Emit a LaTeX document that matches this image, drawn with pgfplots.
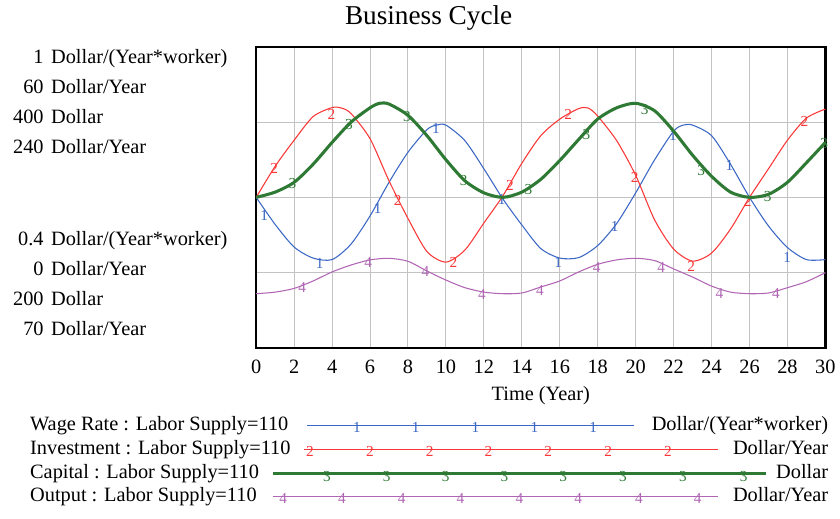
\documentclass[border=0pt]{standalone}
\usepackage{pgfplots}
\pgfplotsset{compat=1.18}
\usepackage{fontspec}
\setmainfont{Liberation Serif}
\definecolor{cBlue}{RGB}{59,103,196}
\definecolor{cRed}{RGB}{250,55,55}
\definecolor{cGreen}{RGB}{46,122,52}
\definecolor{cPurple}{RGB}{176,102,180}
\definecolor{cGrid}{RGB}{195,195,195}
\newcommand{\lf}{\fontsize{15.3}{18}\selectfont}
\newcommand{\mf}{\fontsize{11.5}{13}\selectfont}
\pgfplotsset{common/.style={width=428.25pt,height=226.5pt,scale only axis,
  at={(192.75pt,128.25pt)},anchor=south west,xmin=0,xmax=30,clip=false},
  lbl/.style={draw=none, mark=none, nodes near coords={#1},
  every node near coord/.append style={anchor=center, font=\mf, inner sep=0pt}},
  crv/.style={smooth, tension=0.45, line width=0.8pt}}
\begin{document}
\begin{tikzpicture}
\begin{scope}[x=0.75pt,y=0.75pt]
\useasboundingbox (0,0) rectangle (840,520);
\end{scope}
% main axis: Wage Rate
\begin{axis}[common, ymin=0.4, ymax=1,
  xtick={0,2,...,30}, ytick={0.55,0.7,0.85}, yticklabels={},
  grid=major, grid style={draw=cGrid,line width=0.75pt},
  major tick length=0pt,
  axis line style={line width=1.9pt},
  ticklabel style={font=\lf},
  /pgf/number format/assume math mode=true,
  xticklabel style={yshift=-5.5pt},
  xlabel={Time (Year)}, xlabel style={font=\lf, yshift=-3pt}]
\addplot[cBlue, crv] coordinates {
(0,0.700)(1,0.646)(2,0.601)(3,0.579)(4,0.576)(5,0.607)(6,0.663)(7,0.730)(8,0.790)(9,0.835)(9.5,0.844)(10,0.844)(11,0.813)(12,0.757)(13,0.697)(14,0.645)(15,0.598)(16,0.579)(17,0.580)(18,0.604)(19,0.648)(20,0.709)(21,0.775)(22,0.832)(22.5,0.844)(23,0.844)(24,0.823)(25,0.766)(26,0.700)(27,0.643)(28,0.600)(29,0.576)(30,0.576)};
\addplot[lbl=1, every node near coord/.append style={text=cBlue}] coordinates {
(0.42,0.664)(3.35,0.568)(6.4,0.677)(9.48,0.838)(12.94,0.695)(15.92,0.571)(18.9,0.642)(21.97,0.823)(24.94,0.763)(27.99,0.581)};
\end{axis}
% Investment
\begin{axis}[common, ymin=0, ymax=60, hide axis]
\addplot[cRed, crv] coordinates {
(0,30)(1,36.2)(2,41.4)(3,46.1)(4,47.9)(4.5,47.8)(5,46.7)(6,41.7)(7,33.3)(8,25.8)(9,19.2)(10,17.1)(11,19.5)(12,24.9)(13,30.3)(14,36.8)(15,42.3)(16,45.6)(17,47.7)(17.5,47.8)(18,46.2)(19,41.3)(20,34.4)(21,25.5)(22,19.7)(23,17.3)(24,18.9)(25,23.7)(26,30)(27,35.7)(28,41.4)(29,45.8)(30,47.6)};
\addplot[lbl=2, every node near coord/.append style={text=cRed}] coordinates {
(0.95,35.7)(3.96,46.5)(7.46,29.4)(10.4,17.1)(13.38,32.4)(16.45,46.5)(19.95,34.0)(22.93,16.2)(25.9,29.1)(28.89,45.1)};
\end{axis}
% Capital
\begin{axis}[common, ymin=200, ymax=400, hide axis]
\addplot[cGreen, crv, line width=2.3pt] coordinates {
(0,300)(1,303.5)(2,310)(3,322)(4,336.5)(5,350)(6,359.5)(6.5,362.5)(7,362)(8,354.5)(9,341)(10,325)(11,311)(12,303)(13,300)(14,303.5)(15,312)(16,324.5)(17,338.5)(18,352)(19,359.5)(20,362.5)(21,357.5)(22,344)(23,328)(24,314)(25,303.5)(26,300)(27,302)(28,310)(29,323)(30,336.5)};
\addplot[lbl=3, every node near coord/.append style={text=cGreen}] coordinates {
(1.91,309)(4.89,348.5)(7.95,353.5)(10.93,311)(14.35,305)(17.41,342)(20.48,358.5)(23.45,318)(26.96,300.5)(29.94,335.5)};
\end{axis}
% Output
\begin{axis}[common, ymin=70, ymax=240, hide axis]
\addplot[cPurple, crv] coordinates {
(0,100.6)(1,101.5)(2,103.6)(3,107.8)(4,112.9)(5,116.8)(6,119.7)(7,120.6)(8,118.9)(9,113.4)(10,108.3)(11,104)(12,101.5)(13,100.6)(14,101)(15,104.4)(16,107.8)(17,112.9)(18,117.2)(19,119.7)(20,120.6)(21,119.3)(22,114.6)(23,110)(24,104.9)(25,101.5)(26,100.6)(27,101)(28,104)(29,107.4)(30,112.5)};
\addplot[lbl=4, every node near coord/.append style={text=cPurple}] coordinates {
(2.43,104.4)(5.9,118.0)(8.92,112.9)(11.9,100.2)(14.96,102.7)(17.94,115.5)(21.35,115.5)(24.42,101.0)(27.39,101.0)};
\end{axis}
\begin{scope}[x=0.75pt,y=0.75pt]
% title
\node[font=\fontsize{20.5}{24}\selectfont] at (430,502) {Business Cycle};
\begin{scope}[every node/.style={font=\lf, inner sep=0pt}]
\node[anchor=mid east] at (44,459) {1};   \node[anchor=mid west] at (51,459) {Dollar/(Year*worker)};
\node[anchor=mid east] at (44,429) {60};  \node[anchor=mid west] at (51,429) {Dollar/Year};
\node[anchor=mid east] at (44,399) {400}; \node[anchor=mid west] at (51,399) {Dollar};
\node[anchor=mid east] at (44,369) {240}; \node[anchor=mid west] at (51,369) {Dollar/Year};
\node[anchor=mid east] at (44,277) {0.4}; \node[anchor=mid west] at (51,277) {Dollar/(Year*worker)};
\node[anchor=mid east] at (44,247) {0};   \node[anchor=mid west] at (51,247) {Dollar/Year};
\node[anchor=mid east] at (44,217) {200}; \node[anchor=mid west] at (51,217) {Dollar};
\node[anchor=mid east] at (44,187) {70};  \node[anchor=mid west] at (51,187) {Dollar/Year};
% legend
\node[anchor=mid west] at (30,91) {Wage Rate : Labor Supply=110};
\node[anchor=mid west] at (30,67) {Investment : Labor Supply=110};
\node[anchor=mid west] at (30,43) {Capital : Labor Supply=110};
\node[anchor=mid west] at (30,20) {Output : Labor Supply=110};
\node[anchor=mid east] at (831,91) {Dollar/(Year*worker)};
\node[anchor=mid east] at (831,67) {Dollar/Year};
\node[anchor=mid east] at (831,43) {Dollar};
\node[anchor=mid east] at (831,20) {Dollar/Year};
\end{scope}
\draw[cBlue, line width=0.8pt] (308,93) -- (636,93);
\draw[cRed, line width=0.8pt] (305,69) -- (720,69);
\draw[cGreen, line width=2.3pt] (274,45) -- (768,45);
\draw[cPurple, line width=0.8pt] (274,22) -- (720,22);
\foreach \xx in {358,417,477,536,595} \node[font=\mf, text=cBlue, inner sep=0pt] at (\xx,91) {1};
\foreach \xx in {311,371,431,490,550,610,670} \node[font=\mf, text=cRed, inner sep=0pt] at (\xx,67) {2};
\foreach \xx in {328,388,447,506,565,625,685,746} \node[font=\mf, text=cGreen, inner sep=0pt] at (\xx,42) {3};
\foreach \xx in {284,343,403,462,521,580,641,700} \node[font=\mf, text=cPurple, inner sep=0pt] at (\xx,20) {4};
\end{scope}
\end{tikzpicture}
\end{document}
